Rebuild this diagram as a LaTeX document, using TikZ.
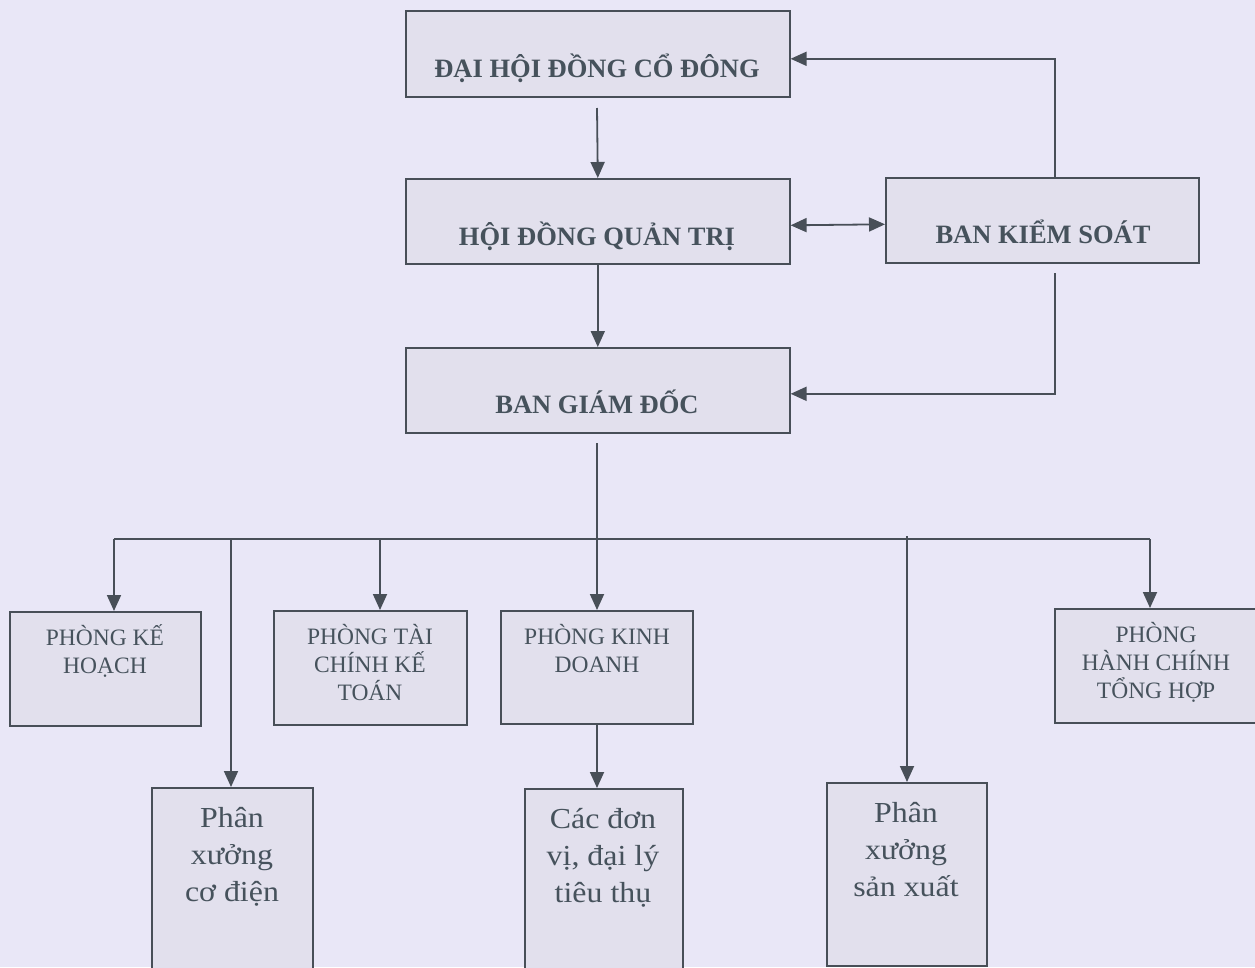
\documentclass[tikz,border=0pt]{standalone}
\usepackage{fontspec}
\setmainfont{Liberation Serif}
\newfontfamily\lowfont[FakeStretch=1.1]{Liberation Serif}
\usetikzlibrary{arrows.meta}
\definecolor{bgc}{RGB}{233,231,247}
\definecolor{boxc}{RGB}{226,224,237}
\definecolor{linec}{RGB}{72,79,88}
\definecolor{txtc}{RGB}{70,82,92}
\begin{document}
\begin{tikzpicture}[x=1pt,y=-1pt,
  box/.style={draw=linec, line width=1.6pt, fill=boxc, inner sep=0pt, anchor=north west},
  toptxt/.style={anchor=base, inner sep=0pt, text=txtc, font=\fontsize{26.5}{30}\selectfont\bfseries},
  deptxt/.style={anchor=base, inner sep=0pt, text=txtc, font=\fontsize{23.5}{28}\selectfont},
  lowtxt/.style={anchor=base, inner sep=0pt, text=txtc, font=\lowfont\fontsize{29}{37}\selectfont},
  conn/.style={draw=linec, line width=1.8pt},
  arr/.style={conn, -{Triangle[length=16pt,width=14pt]}},
  darr/.style={conn, {Triangle[length=16pt,width=14pt]}-{Triangle[length=16pt,width=14pt]}}]
\path[use as bounding box, fill=bgc] (0,0) rectangle (1255,967);
\clip (0,0) rectangle (1255,967);

% top boxes
\node[box, minimum width=384pt, minimum height=86pt] (dh) at (405,10) {};
\node[toptxt] (dht) at (597,77) {ĐẠI HỘI ĐỒNG CỔ ĐÔNG};
\node[box, minimum width=384pt, minimum height=85pt] (hd) at (405,178) {};
\node[toptxt] (hdt) at (597,245) {HỘI ĐỒNG QUẢN TRỊ};
\node[box, minimum width=313pt, minimum height=85pt] (bks) at (885,177) {};
\node[toptxt] (bkst) at (1043,243) {BAN KIỂM SOÁT};
\node[box, minimum width=384pt, minimum height=85pt] (bgd) at (405,347) {};
\node[toptxt] (bgdt) at (597,413) {BAN GIÁM ĐỐC};

% departments
\node[box, minimum width=191pt, minimum height=114pt] (pkh) at (9,611) {};
\node[deptxt] (pkh1) at (105,645) {PHÒNG KẾ};
\node[deptxt] (pkh2) at (105,673) {HOẠCH};
\node[box, minimum width=193pt, minimum height=114pt] (ptc) at (273,610) {};
\node[deptxt] (ptc1) at (370,644) {PHÒNG TÀI};
\node[deptxt] (ptc2) at (370,672) {CHÍNH KẾ};
\node[deptxt] (ptc3) at (370,700) {TOÁN};
\node[box, minimum width=192pt, minimum height=113pt] (pkd) at (500,610) {};
\node[deptxt] (pkd1) at (597,644) {PHÒNG KINH};
\node[deptxt] (pkd2) at (597,672) {DOANH};
\node[box, minimum width=206pt, minimum height=114pt] (phc) at (1054,608) {};
\node[deptxt] (phc1) at (1156,642) {PHÒNG};
\node[deptxt] (phc2) at (1156,670) {HÀNH CHÍNH};
\node[deptxt] (phc3) at (1156,698) {TỔNG HỢP};

% lower boxes
\node[box, minimum width=161pt, minimum height=200pt] (pxcd) at (151,787) {};
\node[lowtxt] (pxcd1) at (232,827) {Phân};
\node[lowtxt] (pxcd2) at (232,864) {xưởng};
\node[lowtxt] (pxcd3) at (232,901) {cơ điện};
\node[box, minimum width=158pt, minimum height=200pt] (cdv) at (524,788) {};
\node[lowtxt] (cdv1) at (603,828) {Các đơn};
\node[lowtxt] (cdv2) at (603,865) {vị, đại lý};
\node[lowtxt] (cdv3) at (603,902) {tiêu thụ};
\node[box, minimum width=160pt, minimum height=183pt] (pxsx) at (826,782) {};
\node[lowtxt] (pxsx1) at (906,822) {Phân};
\node[lowtxt] (pxsx2) at (906,859) {xưởng};
\node[lowtxt] (pxsx3) at (906,896) {sản xuất};

% coordinates for free ends
\coordinate (a1) at (597,108);
\coordinate (k1) at (1055,177);
\coordinate (k2) at (1055,273);
\coordinate (g1) at (597,443);
\coordinate (bL) at (114,539);
\coordinate (b2) at (231,539);
\coordinate (b3) at (380,539);
\coordinate (b4) at (907,536);
\coordinate (bR) at (1150,539);

% connectors
\draw[arr] (a1) -- (hd.north);
\draw[arr] (hd.south) -- (bgd.north);
\draw[darr] ([yshift=-4pt]hd.east) -- ([yshift=-4pt]bks.west);
\draw[arr] (k1) |- ([yshift=-5pt]dh.east);
\draw[arr] (k2) |- ([yshift=-3.5pt]bgd.east);
\draw[conn] (bL) -- (bR);
\draw[arr] (g1) -- (g1 |- pkd.north);
\draw[arr] (bL) -- (bL |- pkh.north);
\draw[arr] (b2) -- (b2 |- pxcd.north);
\draw[arr] (b3) -- (b3 |- ptc.north);
\draw[arr] (b4) -- (b4 |- pxsx.north);
\draw[arr] (bR) -- (bR |- phc.north);
\draw[arr] (g1 |- pkd.south) -- (g1 |- cdv.north);
\end{tikzpicture}
\end{document}
